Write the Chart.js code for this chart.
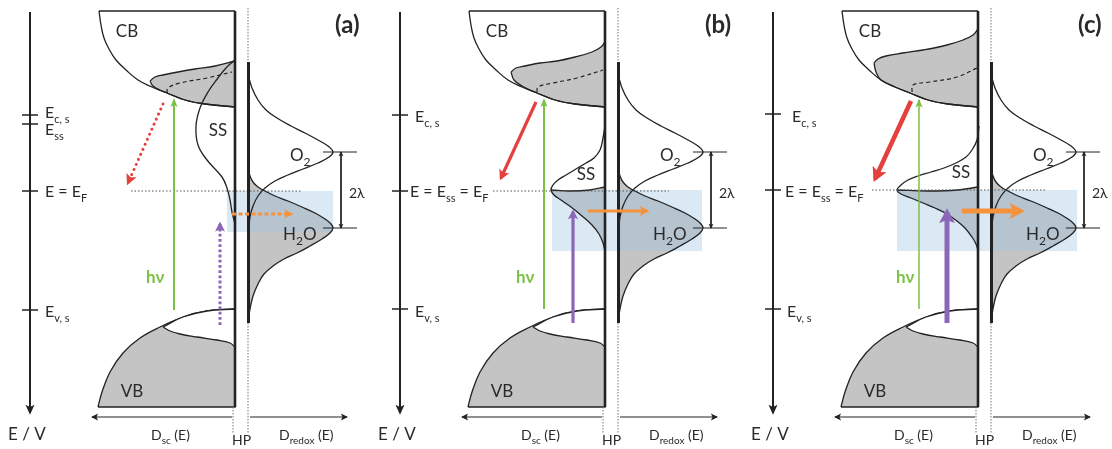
<!DOCTYPE html>
<html lang="en">
<head>
<meta charset="UTF-8">
<title>Photoelectrode energetics (a)-(c)</title>
<script src="https://cdn.jsdelivr.net/npm/chart.js"></script>
<style>
  html, body { margin: 0; padding: 0; background: #fff; }
  #wrap { position: relative; width: 1112px; height: 449px; overflow: hidden; }
  #wrap canvas { position: absolute; top: 0; }
</style>
</head>
<body>
<div id="wrap">
  <canvas id="panelA" width="370" height="449" style="left:0"></canvas>
  <canvas id="panelB" width="373" height="449" style="left:370px"></canvas>
  <canvas id="panelC" width="369" height="449" style="left:743px"></canvas>
</div>
<script>
// ---- shapes, panel units (x: density / position, y: energy, down = lower E)
const energyAxis = [[30, 12], [30, 413]];
const cbTop = [[99, 11], [235, 11]];
const cbEdge = [[99, 11], [101, 25], [104, 38], [109, 49], [116, 60], [126, 70], [138, 80], [152, 87], [167, 93], [185, 100], [205, 104], [235, 107]];
const vbEdge = [[98, 407], [102, 392], [110, 372], [123, 353], [140, 338], [160, 327], [183, 317], [207, 311], [235, 309]];
const vbTail = [[163, 327], [170, 331], [180, 334], [197, 337], [217, 340], [230, 343], [235, 347]];
const o2Curve = [[249, 78], [252, 88], [258, 100], [266, 110], [277, 118], [291, 126], [305, 133], [318, 140], [328, 146], [333, 152], [329, 157], [318, 163], [303, 169], [288, 175], [275, 181], [265, 188], [258, 196], [253, 206], [250, 217], [249, 228]];
const h2oCurve = [[248, 168], [250, 176], [253, 182], [258, 187], [265, 191], [275, 196], [288, 201], [302, 207], [315, 213], [325, 219], [331, 224], [333, 228], [330, 233], [322, 239], [310, 246], [297, 253], [284, 259], [273, 266], [264, 274], [258, 284], [253, 296], [250, 309], [248, 323]];
const scSurface = [[235, 11], [235, 407]];
const redoxSurface = [[248.5, 62], [248.5, 323]];
const hpLeft = [[233, 407], [233, 433]];
const hpRightTop = [[248, 8], [248, 62]];
const hpRightBottom = [[248, 323], [248, 433]];
const dscAxis = [[232, 417], [92, 417]];
const dredoxAxis = [[250, 417], [347, 417]];
const lambdaTop = [[323, 152], [357, 152]];
const lambdaBottom = [[323, 228], [357, 228]];
const lambdaSpan = [[341, 152], [341, 228]];

// surface-state occupied lobe inside the CB, per panel
const lobeTopA = [[150, 81], [155, 77], [163, 75], [178, 72], [195, 69], [215, 66], [235, 61]];
const lobeFootA = [[167, 93], [160, 90], [153, 86], [150, 81]];
const lobeTopB = [[141, 72], [146, 68], [155, 66], [170, 63], [187, 61], [205, 57], [222, 52], [231, 47], [235, 42]];
const lobeFootB = [[167, 93], [152, 86], [144, 80], [141, 72]];
const lobeTopC = [[131, 63], [135, 59], [143, 56], [160, 53], [180, 50], [204, 45], [220, 40], [230, 35], [235, 29]];
const lobeFootC = [[152, 87], [138, 80], [133, 72], [131, 63]];
const dashA = [[167, 93], [168, 88], [180, 83], [207, 78], [232, 72]];
const dashB = [[167, 92], [168, 87], [183, 83], [207, 78], [233, 70]];
const dashC = [[169, 92], [170, 85], [187, 82], [214, 77], [234, 68]];

// surface states (SS) distribution
const ssA = [[235, 60], [226, 68], [218, 78], [208, 92], [200, 108], [196, 126], [198, 145], [207, 160], [222, 177], [227, 188], [230, 200], [232, 212], [235, 224]];
const ssB = [[235, 126], [233, 138], [230, 150], [224, 158], [216, 163], [206, 169], [196, 175], [188, 180], [183, 185], [181, 190], [184, 195], [191, 200], [201, 207], [212, 216], [222, 225], [229, 234], [233, 243], [235, 251]];
const ssMidB = [[181, 190], [200, 191], [220, 190], [235, 187]];
const ssC = [[236, 126], [234, 140], [229, 150], [223, 157], [213, 163], [201, 168], [188, 172], [175, 176], [165, 180], [158, 185], [154, 190], [158, 194], [168, 198], [180, 203], [192, 208], [204, 214], [214, 221], [222, 228], [229, 237], [233, 244], [235, 250]];
const ssMidC = [[154, 190], [185, 191], [215, 190], [235, 187]];

// shaded overlap window, Fermi level
const boxA = [[227, 191], [333, 232]];
const boxB = [[182, 190], [332, 251]];
const boxC = [[154, 190], [334, 251]];
const fermiA = [[131, 191], [302, 191]];
const fermiB = [[123, 191], [299, 191]];
const fermiC = [[129, 190], [302, 190]];

// transitions
const hvA = [[174, 310], [174, 100]];
const hvB = [[174, 309], [174, 100]];
const hvC = [[176, 309], [176, 100]];
const redA = [[163, 104], [128, 183]];
const redB = [[166, 102], [131, 178]];
const redC = [[168, 101], [132, 179]];
const violetA = [[220, 325], [220, 224]];
const violetB = [[203, 323], [203, 212]];
const violetC = [[204, 323], [204, 212]];
const orangeA = [[232, 214], [291, 214]];
const orangeB = [[218, 211], [277, 211]];
const orangeC = [[219, 211], [278, 211]];

// energy levels on the E axis
const levelsA = [115, 124, 191, 310];
const levelsB = [115, 191, 309];
const levelsC = [114, 190, 309];
const levelTextA = ['E_{c, s}', 'E_{ss}', 'E = E_{F}', 'E_{v, s}'];
const levelTextB = ['E_{c, s}', 'E = E_{ss} = E_{F}', 'E_{v, s}'];
const levelTextC = ['E_{c, s}', 'E = E_{ss} = E_{F}', 'E_{v, s}'];
const tags = ['(a)', '(b)', '(c)'];

const INK = '#222';
const GREY = '#c4c4c4';
const FONT = 'Lato, "Open Sans", sans-serif';
const RED = '#e4403e', GREEN = '#7cc146', VIOLET = '#8c67b8', ORANGE = '#f5923c';

const xy = a => a.map(([x, y]) => ({x, y}));
// consecutive segments share their end point: the repeated point keeps the corner sharp
const chain = (...segs) => segs.flat();

function path(points, style) {
  return Object.assign({
    data: xy(points), showLine: true, pointRadius: 0, pointHoverRadius: 0,
    borderColor: INK, borderWidth: 1.3, backgroundColor: 'transparent',
    fill: false, tension: 0
  }, style);
}

function lobeShape(top, foot) {
  const end = top[top.length - 1];
  const back = cbEdge.slice().reverse().filter(q => q[0] >= foot[0][0]);
  return chain(top, [end, cbEdge[cbEdge.length - 1]], back, foot);
}

function ssHalf(ss, mid) {
  const peak = ss.findIndex(q => q[0] === mid[0][0] && q[1] === mid[0][1]);
  const lower = ss.slice(peak).reverse();
  return chain(mid, [mid[mid.length - 1], lower[0]], lower);
}

function rect(c) {
  const [[x0, y0], [x1, y1]] = c;
  return [[x0, y0], [x1, y0], [x1, y1], [x0, y1]];
}

const panels = [
  { id: 'panelA', width: 370, tag: tags[0], lobeTop: lobeTopA, lobeFoot: lobeFootA, dash: dashA,
    ss: ssA, ssMid: null, box: boxA, fermi: fermiA, hv: hvA, red: redA, violet: violetA, orange: orangeA,
    levels: levelsA, levelText: levelTextA, dotted: true, arrowW: [3, 3, 3], hvW: 2,
    levelPos: [[45, 118], [45, 135], [45, 197], [45, 317]], ssPos: [218, 136], hvPos: [146, 283] },
  { id: 'panelB', width: 373, tag: tags[1], lobeTop: lobeTopB, lobeFoot: lobeFootB, dash: dashB,
    ss: ssB, ssMid: ssMidB, box: boxB, fermi: fermiB, hv: hvB, red: redB, violet: violetB, orange: orangeB,
    levels: levelsB, levelText: levelTextB, dotted: false, arrowW: [3.2, 3.2, 3.2], hvW: 2,
    levelPos: [[45, 122], [40, 197], [45, 317]], ssPos: [216, 180], hvPos: [146, 283] },
  { id: 'panelC', width: 369, tag: tags[2], lobeTop: lobeTopC, lobeFoot: lobeFootC, dash: dashC,
    ss: ssC, ssMid: ssMidC, box: boxC, fermi: fermiC, hv: hvC, red: redC, violet: violetC, orange: orangeC,
    levels: levelsC, levelText: levelTextC, dotted: false, arrowW: [4.5, 5, 5], hvW: 1.5,
    levelPos: [[49, 122], [42, 197], [44, 317]], ssPos: [218, 178], hvPos: [153, 283] }
];

function buildLayers(p) {
  const L = [];
  // filled regions first
  L.push(path(lobeShape(p.lobeTop, p.lobeFoot), { fill: 'shape', backgroundColor: GREY, tension: 0.4 }));
  L.push(path(cbTop));
  L.push(path(cbEdge, { tension: 0.4 }));
  L.push(path(p.dash, { tension: 0.4, borderWidth: 1.2, borderDash: [4, 3] }));
  L.push(path(chain(vbEdge, [vbEdge[vbEdge.length - 1], [235, 407]], [[235, 407], vbEdge[0]]),
    { fill: 'shape', backgroundColor: GREY, tension: 0.4 }));
  const tip = vbTail[0];
  const vbUpper = [tip, ...vbEdge.filter(q => q[0] > tip[0])];
  L.push(path(chain(vbUpper, [vbUpper[vbUpper.length - 1], vbTail[vbTail.length - 1]], vbTail.slice().reverse()),
    { fill: 'shape', backgroundColor: '#ffffff', tension: 0.4 }));
  if (p.ssMid) L.push(path(ssHalf(p.ss, p.ssMid), { fill: 'shape', backgroundColor: GREY, borderWidth: 0, tension: 0.4 }));
  L.push(path(h2oCurve, { fill: 'shape', backgroundColor: GREY, borderWidth: 0, tension: 0.4 }));
  // light-blue window drawn over the grey
  L.push(path(rect(p.box), { fill: 'shape', backgroundColor: 'rgba(160,196,228,0.38)', borderWidth: 0 }));
  // outlines
  L.push(path(p.ss, { tension: 0.4 }));
  if (p.ssMid) L.push(path(p.ssMid, { tension: 0.4 }));
  L.push(path(o2Curve, { tension: 0.4 }));
  L.push(path(h2oCurve, { tension: 0.4 }));
  L.push(path(p.fermi, { borderColor: '#555', borderWidth: 1, borderDash: [1.5, 2] }));
  L.push(path(hpLeft, { borderColor: '#777', borderWidth: 1, borderDash: [1.5, 1.5] }));
  L.push(path(hpRightTop, { borderColor: '#777', borderWidth: 1, borderDash: [1.5, 1.5] }));
  L.push(path(hpRightBottom, { borderColor: '#777', borderWidth: 1, borderDash: [1.5, 1.5] }));
  L.push(path(scSurface, { borderWidth: 2.6 }));
  L.push(path(redoxSurface, { borderWidth: 3 }));
  L.push(path(energyAxis, { borderWidth: 2, head: { len: 10, half: 4.5 } }));
  p.levels.forEach(y => L.push(path([[22, y], [38, y]], { borderWidth: 1.5 })));
  L.push(path(dscAxis, { borderWidth: 1.2, head: { len: 7, half: 3.5 } }));
  L.push(path(dredoxAxis, { borderWidth: 1.2, head: { len: 7, half: 3.5 } }));
  L.push(path(lambdaTop, { borderWidth: 1 }));
  L.push(path(lambdaBottom, { borderWidth: 1 }));
  L.push(path(lambdaSpan, { borderWidth: 1, head: { len: 5, half: 2.5, both: true } }));
  // transitions
  const [wr, wv, wo] = p.arrowW;
  L.push(path(p.hv, { borderColor: GREEN, borderWidth: p.hvW, head: { len: 9, half: 3.5 } }));
  if (p.dotted) {
    L.push(path(p.red, { borderColor: RED, borderWidth: wr, borderDash: [0.01, 5.5], borderCapStyle: 'round', head: { len: 11, half: 5.5 } }));
    L.push(path(p.violet, { borderColor: VIOLET, borderWidth: wv, borderDash: [2.8, 2.4], head: { len: 10, half: 5 } }));
    L.push(path(p.orange, { borderColor: ORANGE, borderWidth: wo, borderDash: [4, 2.5], head: { len: 9, half: 4.5 } }));
  } else {
    L.push(path(p.red, { borderColor: RED, borderWidth: wr, head: { len: wr * 3.2, half: wr * 1.7 } }));
    L.push(path(p.violet, { borderColor: VIOLET, borderWidth: wv, head: { len: wv * 3, half: wv * 1.6 } }));
    L.push(path(p.orange, { borderColor: ORANGE, borderWidth: wo, head: { len: wo * 3, half: wo * 1.6 } }));
  }
  // first dataset is painted last in Chart.js: give back layers the higher order
  L.forEach((d, i) => { d.order = L.length - i; });
  return L;
}

function splitRich(str) {
  const parts = [];
  const re = /_\{([^}]*)\}/g;
  let last = 0, m;
  while ((m = re.exec(str))) {
    if (m.index > last) parts.push([str.slice(last, m.index), false]);
    parts.push([m[1], true]);
    last = re.lastIndex;
  }
  if (last < str.length) parts.push([str.slice(last), false]);
  return parts;
}

function drawRich(ctx, str, x, y, o) {
  const size = o.size || 16;
  const fontFor = sub => `${o.weight || 400} ${sub ? Math.round(size * 0.68) : size}px ${FONT}`;
  const parts = splitRich(str);
  let total = 0;
  parts.forEach(([t, sub]) => { ctx.font = fontFor(sub); total += ctx.measureText(t).width; });
  let cx = o.align === 'center' ? x - total / 2 : x;
  ctx.fillStyle = o.color || '#2a2a2a';
  ctx.textAlign = 'left';
  ctx.textBaseline = 'alphabetic';
  parts.forEach(([t, sub]) => {
    ctx.font = fontFor(sub);
    ctx.fillText(t, cx, y + (sub ? size * 0.3 : 0));
    cx += ctx.measureText(t).width;
  });
}

const arrowHeads = {
  id: 'arrowHeads',
  afterDatasetDraw(chart, args) {
    const ds = chart.data.datasets[args.index];
    if (!ds.head) return;
    const pts = args.meta.data;
    const ctx = chart.ctx;
    const {len, half, both} = ds.head;
    const push = len * ds.borderWidth / (2 * half);
    const draw = (from, to) => {
      const ang = Math.atan2(to.y - from.y, to.x - from.x);
      ctx.save();
      ctx.translate(to.x + Math.cos(ang) * push * 0.8, to.y + Math.sin(ang) * push * 0.8);
      ctx.rotate(ang);
      ctx.beginPath();
      ctx.moveTo(0, 0);
      ctx.lineTo(-len, -half);
      ctx.lineTo(-len * 0.78, 0);
      ctx.lineTo(-len, half);
      ctx.closePath();
      ctx.fillStyle = ds.borderColor;
      ctx.fill();
      ctx.restore();
    };
    draw(pts[pts.length - 2], pts[pts.length - 1]);
    if (both) draw(pts[1], pts[0]);
  }
};

const labels = {
  id: 'labels',
  afterDatasetsDraw(chart, args, opts) {
    const p = opts.panel;
    const sx = chart.scales.x, sy = chart.scales.y;
    const ctx = chart.ctx;
    const put = (str, x, y, o = {}) => drawRich(ctx, str, sx.getPixelForValue(x), sy.getPixelForValue(y), o);
    ctx.save();
    put('CB', 127, 37, { align: 'center', size: 17 });
    put('VB', 132, 397, { align: 'center', size: 17 });
    put('SS', p.ssPos[0], p.ssPos[1], { align: 'center', size: 17 });
    put('O_{2}', 290, 161, { size: 17 });
    put('H_{2}O', 283, 240, { size: 17 });
    put('2λ', 349, 198, { size: 14 });
    put('hν', p.hvPos[0], p.hvPos[1], { weight: 700, color: GREEN, size: 17 });
    put(p.tag, 335, 33, { size: 24, weight: 700 });
    p.levelText.forEach((t, i) => put(t, p.levelPos[i][0], p.levelPos[i][1]));
    put('E / V', 8, 440, { size: 17 });
    put('D_{sc} (E)', 151, 440, { size: 14 });
    put('HP', 232, 445, { size: 14 });
    put('D_{redox} (E)', 279, 440, { size: 14 });
    ctx.restore();
  }
};

panels.forEach(p => {
  new Chart(document.getElementById(p.id), {
    type: 'scatter',
    data: { datasets: buildLayers(p) },
    options: {
      responsive: false,
      animation: false,
      devicePixelRatio: 1,
      events: [],
      layout: { padding: 0 },
      plugins: {
        legend: { display: false },
        tooltip: { enabled: false },
        filler: { propagate: false },
        labels: { panel: p }
      },
      scales: {
        x: { type: 'linear', min: 0, max: p.width, display: false },
        y: { type: 'linear', min: 0, max: 449, reverse: true, display: false }
      }
    },
    plugins: [arrowHeads, labels]
  });
});
</script>
</body>
</html>
